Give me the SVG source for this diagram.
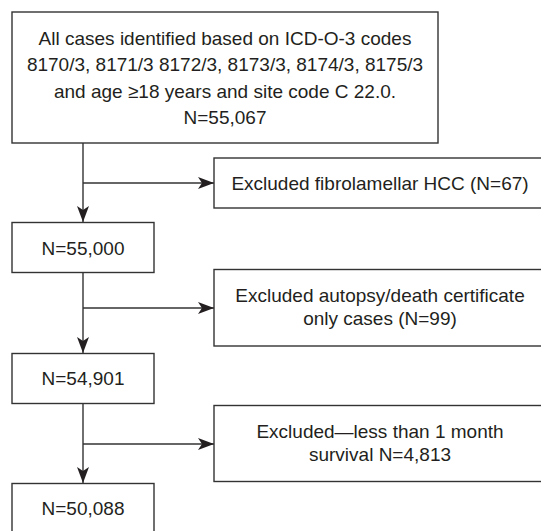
<svg xmlns="http://www.w3.org/2000/svg" width="541" height="531" viewBox="0 0 541 531">
<defs>
<style>
.box{fill:#ffffff;stroke:#333333;stroke-width:1.4}
.t{font-family:"Liberation Sans",Arial,Helvetica,sans-serif;font-size:19px;fill:#231f20;text-anchor:middle}
.c{fill:none;stroke:#333333;stroke-width:1.4}
</style>
<marker id="ah" markerUnits="userSpaceOnUse" viewBox="0 0 16 12" refX="16" refY="6" markerWidth="16" markerHeight="12" orient="auto">
<path d="M0,0 L16,6 L0,12 L4,6 Z" fill="#231f20"/>
</marker>
</defs>
<rect width="541" height="531" fill="#ffffff"/>
<g id="connectors">
<line class="c" x1="83" y1="143" x2="83" y2="222" marker-end="url(#ah)"/>
<line class="c" x1="83" y1="183" x2="214" y2="183" marker-end="url(#ah)"/>
<line class="c" x1="83" y1="273" x2="83" y2="353" marker-end="url(#ah)"/>
<line class="c" x1="83" y1="308" x2="214" y2="308" marker-end="url(#ah)"/>
<line class="c" x1="83" y1="403.5" x2="83" y2="483" marker-end="url(#ah)"/>
<line class="c" x1="83" y1="444" x2="214" y2="444" marker-end="url(#ah)"/>
</g>
<g id="all-cases">
<rect class="box" x="12" y="12" width="426" height="131"/>
<text class="t" x="225" y="44.5">All cases identified based on ICD-O-3 codes</text>
<text class="t" x="225" y="71">8170/3, 8171/3 8172/3, 8173/3, 8174/3, 8175/3</text>
<text class="t" x="225" y="97.5">and age ≥18 years and site code C 22.0.</text>
<text class="t" x="225" y="124">N=55,067</text>
</g>
<g id="excluded-fibrolamellar">
<rect class="box" x="214" y="158" width="332" height="50"/>
<text class="t" x="380" y="190">Excluded fibrolamellar HCC (N=67)</text>
</g>
<g id="n-55000">
<rect class="box" x="12" y="222.5" width="142" height="50"/>
<text class="t" x="83" y="255">N=55,000</text>
</g>
<g id="excluded-autopsy">
<rect class="box" x="214" y="269.5" width="332" height="76.5"/>
<text class="t" x="380" y="301.5">Excluded autopsy/death certificate</text>
<text class="t" x="380" y="325">only cases (N=99)</text>
</g>
<g id="n-54901">
<rect class="box" x="12" y="353.5" width="142" height="50"/>
<text class="t" x="83" y="385">N=54,901</text>
</g>
<g id="excluded-survival">
<rect class="box" x="214" y="405.5" width="332" height="76"/>
<text class="t" x="380" y="437.5">Excluded—less than 1 month</text>
<text class="t" x="380" y="461">survival N=4,813</text>
</g>
<g id="n-50088">
<rect class="box" x="12" y="483.5" width="142" height="50"/>
<text class="t" x="83" y="515">N=50,088</text>
</g>
</svg>
